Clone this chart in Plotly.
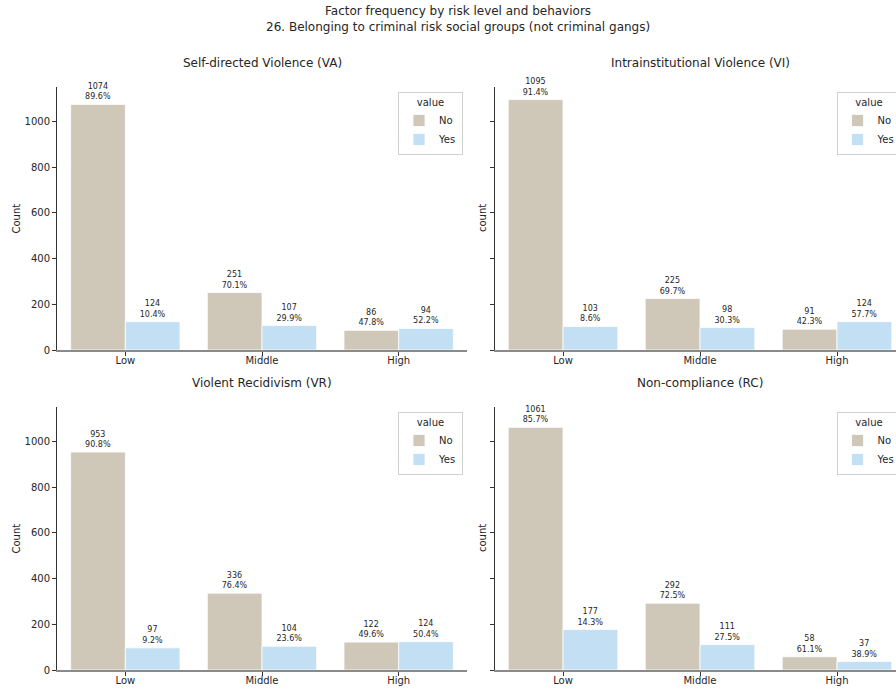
import plotly.graph_objects as go

# ---- data -------------------------------------------------------------
levels = ["Low", "Middle", "High"]
answers = ["No", "Yes"]

panel_titles = [
    "Self-directed Violence (VA)",
    "Intrainstitutional Violence (VI)",
    "Violent Recidivism (VR)",
    "Non-compliance (RC)",
]
count_labels = ["Count", "count", "Count", "count"]

va_no = [1074, 251, 86]
va_yes = [124, 107, 94]
vi_no = [1095, 225, 91]
vi_yes = [103, 98, 124]
vr_no = [953, 336, 122]
vr_yes = [97, 104, 124]
rc_no = [1061, 292, 58]
rc_yes = [177, 111, 37]

y_ticks = [0, 200, 400, 600, 800, 1000]

panels = [(va_no, va_yes), (vi_no, vi_yes), (vr_no, vr_yes), (rc_no, rc_yes)]

# ---- styling ----------------------------------------------------------
W, H = 896, 689
FONT = "DejaVu Sans"
INK = "#262626"
colors = {"No": "#cfc7b8", "Yes": "#c2dff4"}
CAT_PX = 137          # pixels per category step
FULL_RIGHT = 905.5    # where the right-hand panels would end on a wider canvas


def px(x):
    return x / W


def py(y):
    return 1 - y / H


# pixel boxes of the four panels: (left, right, top, bottom)
boxes = [
    (57, 467, 87, 350),
    (494.5, W, 87, 350),
    (57, 467, 407, 670),
    (494.5, W, 407, 670),
]

fig = go.Figure()
layout = dict(
    width=W,
    height=H,
    autosize=False,
    margin=dict(l=0, r=0, t=0, b=0, autoexpand=False),
    paper_bgcolor="white",
    plot_bgcolor="white",
    font=dict(family=FONT, size=10, color=INK),
    barmode="group",
    bargap=0.2,
    bargroupgap=0,
)
annotations = []

for i, ((no_vals, yes_vals), (l, r, t, b)) in enumerate(zip(panels, boxes)):
    k = "" if i == 0 else str(i + 1)
    xa, ya = "x" + k, "y" + k
    leg = "legend" + k
    right_col = i % 2 == 1
    totals = [n + y for n, y in zip(no_vals, yes_vals)]
    for name, vals in (("No", no_vals), ("Yes", yes_vals)):
        labels = [f"{v}<br>{100 * v / tot:.1f}%" for v, tot in zip(vals, totals)]
        fig.add_trace(go.Bar(
            x=levels, y=vals, name=name, xaxis=xa, yaxis=ya,
            marker=dict(color=colors[name], line=dict(color="white", width=0.8)),
            text=labels, textposition="outside", cliponaxis=False,
            textfont=dict(family=FONT, size=8, color=INK),
            legend=leg, offsetgroup=name,
        ))

    # right-hand panels run past the canvas edge, so trim their range
    x_end = 2.5 - ((FULL_RIGHT - W) / CAT_PX if right_col else 0)
    layout["xaxis" + k] = dict(
        domain=[px(l), px(r)], anchor=ya, type="category", automargin=False,
        range=[-0.5, x_end], showline=True, linecolor="#8a8a8a", linewidth=1.5,
        ticks="outside", ticklen=4, tickcolor="#333", showgrid=False,
        tickfont=dict(size=10, color=INK), zeroline=False,
        ticklabelstandoff=-4,
    )
    layout["yaxis" + k] = dict(
        domain=[py(b), py(t)], anchor=xa, range=[0, 1150], automargin=False,
        tickvals=y_ticks, showticklabels=not right_col,
        showline=True, linecolor="#333", linewidth=1,
        ticks="outside", ticklen=4, tickcolor="#333", showgrid=False,
        zeroline=False, tickfont=dict(size=10, color=INK),
    )
    leg_right = (FULL_RIGHT if right_col else r) - 4
    layout[leg] = dict(
        x=px(leg_right), y=py(t + 5), xanchor="right", yanchor="top",
        bgcolor="white", bordercolor="#d0d0d0", borderwidth=1,
        font=dict(size=10, color=INK),
        title=dict(text="value", side="top center", font=dict(size=10, color=INK)),
        itemwidth=30, tracegroupgap=0,
    )

    centre = (l + (FULL_RIGHT if right_col else r)) / 2
    # panel title
    annotations.append(dict(
        text=panel_titles[i], x=px(centre), y=py(t - 24),
        xref="paper", yref="paper", showarrow=False,
        xanchor="center", yanchor="middle", font=dict(size=12, color=INK),
    ))
    # vertical axis title
    annotations.append(dict(
        text=count_labels[i], x=px(l - 12 if right_col else l - 41),
        y=py((t + b) / 2), xref="paper", yref="paper", showarrow=False,
        textangle=-90, xanchor="center", yanchor="middle",
        font=dict(size=10, color=INK),
    ))

# figure title
annotations.append(dict(
    text="Factor frequency by risk level and behaviors<br>"
         "26. Belonging to criminal risk social groups (not criminal gangs)",
    x=px(458), y=py(19.5), xref="paper", yref="paper", showarrow=False,
    xanchor="center", yanchor="middle", font=dict(size=12, color=INK),
))

layout["annotations"] = annotations
fig.update_layout(**layout)

fig.write_html("out.html")
